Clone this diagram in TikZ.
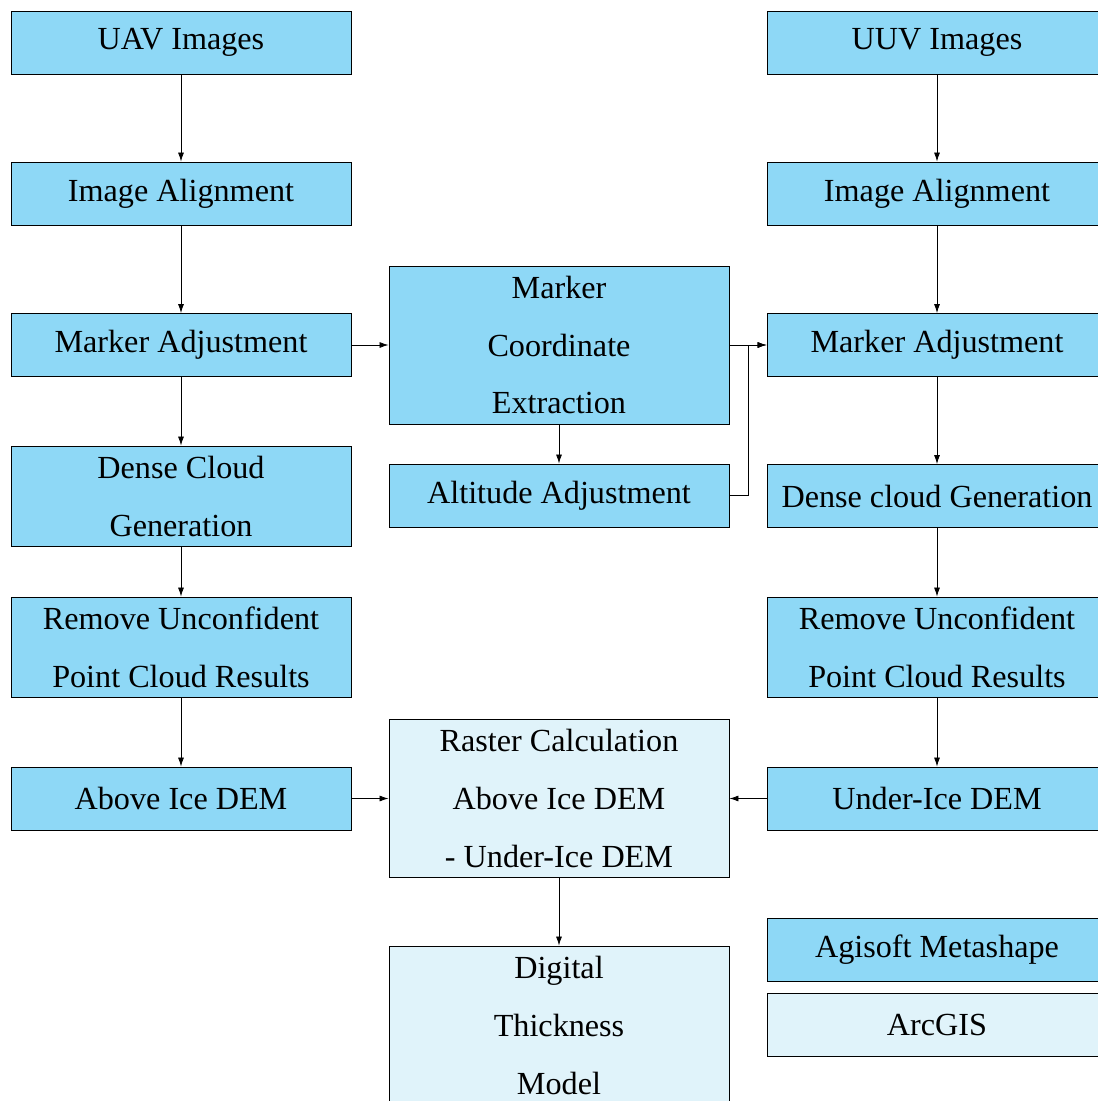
\documentclass[tikz,border=0pt]{standalone}
\usepackage{fontspec}
\setmainfont{Liberation Serif}
\usetikzlibrary{arrows.meta}
\definecolor{dk}{RGB}{142,216,246}
\definecolor{lt}{RGB}{224,243,250}
\tikzset{
  box/.style={draw=black, line width=0.9bp, minimum width=340bp, inner sep=0pt, align=center,
    font=\fontsize{32.3}{58.2}\selectfont},
  dkbox/.style={box, fill=dk},
  ltbox/.style={box, fill=lt},
  hone/.style={minimum height=63bp},
  htwo/.style={minimum height=100bp},
  hthree/.style={minimum height=158bp},
  conn/.style={-{Latex[length=9bp,width=6bp]}, line width=0.8bp},
}
\begin{document}
\begin{tikzpicture}[x=1bp,y=-1bp]
\useasboundingbox (0,0) rectangle (1098,1101);
\fill[white] (0,0) rectangle (1098,1101);
\clip (0,0) rectangle (1098,1101);
% left column
\node[dkbox,hone] (uav) at (181,42.5) {UAV Images};
\node[dkbox,hone] (ia1) at (181,193.5) {Image Alignment};
\node[dkbox,hone] (ma1) at (181,345) {Marker Adjustment};
\node[dkbox,htwo] (dc1) at (181,496) {Dense Cloud\\Generation};
\node[dkbox,htwo] (ru1) at (181,647) {Remove Unconfident\\Point Cloud Results};
\node[dkbox,hone] (aid) at (181,798.5) {Above Ice DEM};
% middle column
\node[dkbox,hthree] (mce) at (559,345) {Marker\\Coordinate\\Extraction};
\node[dkbox,hone] (alt) at (559,495.5) {Altitude Adjustment};
\node[ltbox,hthree] (rc) at (559,798.5) {Raster Calculation\\Above Ice DEM\\- Under-Ice DEM};
\node[ltbox,hthree] (dtm) at (559,1025) {Digital\\Thickness\\Model};
% right column
\node[dkbox,hone] (uuv) at (937,42.5) {UUV Images};
\node[dkbox,hone] (ia2) at (937,193.5) {Image Alignment};
\node[dkbox,hone] (ma2) at (937,345) {Marker Adjustment};
\node[dkbox,hone] (dc2) at (937,496) {Dense cloud Generation};
\node[dkbox,htwo] (ru2) at (937,647) {Remove Unconfident\\Point Cloud Results};
\node[dkbox,hone] (uid) at (937,798.5) {Under-Ice DEM};
\node[dkbox,hone] (agi) at (937,949.5) {Agisoft Metashape};
\node[ltbox,hone] (arc) at (937,1024.5) {ArcGIS};
% connectors
\draw[conn] (uav) -- (ia1);
\draw[conn] (ia1) -- (ma1);
\draw[conn] (ma1) -- (dc1);
\draw[conn] (dc1) -- (ru1);
\draw[conn] (ru1) -- (aid);
\draw[conn] (ma1) -- (mce);
\draw[conn] (aid) -- (rc);
\draw[conn] (mce) -- (alt);
\draw[conn] (rc) -- (dtm);
\draw[conn] (mce) -- (ma2);
\draw[conn] (alt.east) -- ++(19,0) |- (ma2.west);
\draw[conn] (uuv) -- (ia2);
\draw[conn] (ia2) -- (ma2);
\draw[conn] (ma2) -- (dc2);
\draw[conn] (dc2) -- (ru2);
\draw[conn] (ru2) -- (uid);
\draw[conn] (uid) -- (rc);
\end{tikzpicture}
\end{document}
